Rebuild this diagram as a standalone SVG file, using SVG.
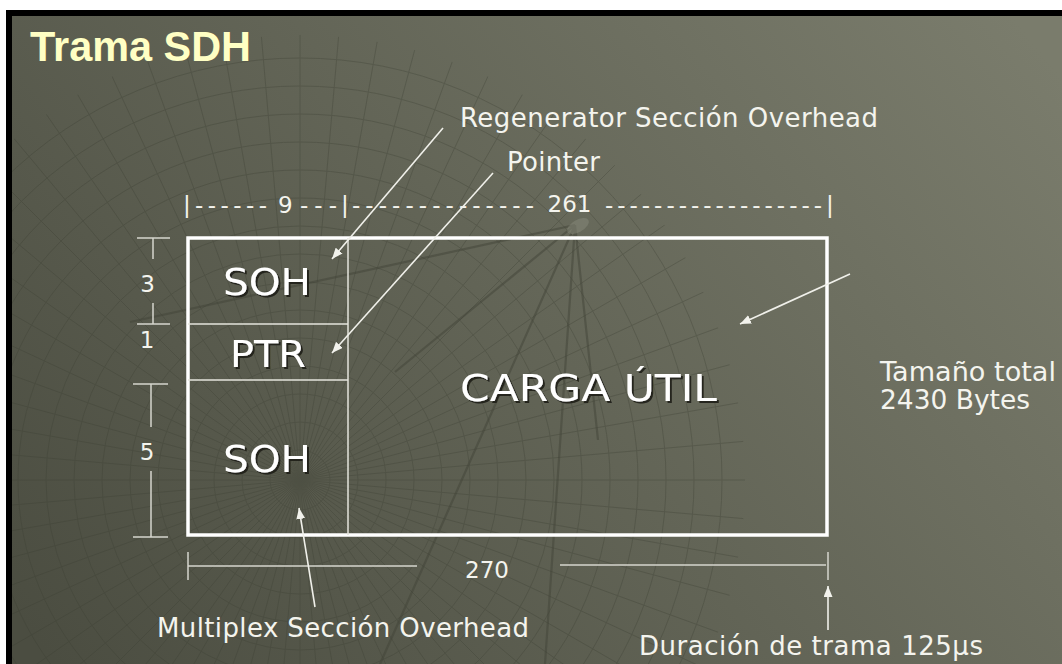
<svg xmlns="http://www.w3.org/2000/svg" width="1062" height="664" viewBox="0 0 1062 664">
<defs>
  <linearGradient id="bg" gradientUnits="userSpaceOnUse" x1="100" y1="720" x2="1000" y2="0">
    <stop offset="0" stop-color="#4b4d41"/>
    <stop offset="1" stop-color="#7a7c6c"/>
  </linearGradient>
  <clipPath id="globeClip"><circle cx="300" cy="480" r="445"/></clipPath>
  <clipPath id="slideClip"><rect x="12" y="16" width="1050" height="648"/></clipPath>
  <marker id="ah" markerUnits="userSpaceOnUse" markerWidth="12" markerHeight="10" refX="11" refY="4.5" orient="auto">
    <path d="M0,0 L11,4.5 L0,9 Z" fill="#f2f2ec"/>
  </marker>
  <filter id="sh" x="-10%" y="-30%" width="130%" height="170%">
    <feDropShadow dx="2" dy="2" stdDeviation="0.6" flood-color="#1c1d17" flood-opacity="0.9"/>
  </filter>
  <style>
    .lbl { font-family: "DejaVu Sans", Verdana, sans-serif; font-size: 26px; fill: #f4f4ee; }
    .num { font-family: "DejaVu Sans", Verdana, sans-serif; font-size: 23px; fill: #f4f4ee; }
    .box { font-family: "DejaVu Sans", Verdana, sans-serif; font-size: 37px; fill: #ffffff; filter: url(#sh); }
    .title { font-family: "Liberation Sans", Arial, sans-serif; font-weight: bold; font-size: 43px; fill: #ffffc4; }
    .frame { fill: none; stroke: #ffffff; stroke-width: 3.5; }
    .cell { fill: none; stroke: #e4e4dc; stroke-width: 1.5; }
    .dim { fill: none; stroke: #d6d6ce; stroke-width: 1.5; }
    .conn { fill: none; stroke: #f0f0ea; stroke-width: 1.6; marker-end: url(#ah); }
    .mesh { fill: none; stroke: #3a3d31; stroke-width: 1; opacity: 0.3; }
    .dish { fill: none; stroke: #414437; stroke-width: 2.2; opacity: 0.5; }
  </style>
</defs>

<!-- page and slide frame -->
<rect x="0" y="0" width="1062" height="664" fill="#ffffff"/>
<rect x="6" y="10" width="1056" height="654" fill="#000000"/>
<rect x="12" y="16" width="1050" height="648" fill="url(#bg)"/>

<!-- decorative background mesh -->
<g id="background" clip-path="url(#slideClip)">
  <g clip-path="url(#globeClip)" class="mesh">
    <circle cx="300" cy="480" r="30"/>
    <circle cx="300" cy="480" r="58"/>
    <circle cx="300" cy="480" r="86"/>
    <circle cx="300" cy="480" r="114"/>
    <circle cx="300" cy="480" r="142"/>
    <circle cx="300" cy="480" r="170"/>
    <circle cx="300" cy="480" r="198"/>
    <circle cx="300" cy="480" r="226"/>
    <circle cx="300" cy="480" r="254"/>
    <circle cx="300" cy="480" r="282"/>
    <circle cx="300" cy="480" r="310"/>
    <circle cx="300" cy="480" r="338"/>
    <circle cx="300" cy="480" r="366"/>
    <circle cx="300" cy="480" r="394"/>
    <circle cx="300" cy="480" r="422"/>
    <path d="M-150,480 L750,480 M-143,402 L743,558 M-123,326 L723,634 M-90,255 L690,705 M-45,191 L645,769 M11,135 L589,825 M75,90 L525,870 M146,57 L454,903 M222,37 L378,923 M300,30 L300,930 M378,37 L222,923 M454,57 L146,903 M525,90 L75,870 M589,135 L11,825 M645,191 L-45,769 M690,255 L-90,705 M723,326 L-123,634 M743,402 L-143,558"/>
    <path d="M-148,441 L748,519 M-136,363 L736,597 M-108,290 L708,670 M-69,222 L669,738 M-19,161 L619,799 M44,111 L556,849 M110,72 L490,888 M184,45 L416,915 M261,32 L339,928 M339,32 L261,928 M416,45 L184,915 M490,72 L110,888 M556,111 L44,849 M619,161 L-19,799 M669,222 L-69,738 M708,290 L-108,670 M736,363 L-136,597 M748,441 L-148,519"/>
  </g>
  <g class="dish">
    <path d="M575,225 L130,322 M575,225 L395,372 M575,225 L545,664 M575,225 L380,664 M575,225 L598,440"/>
  </g>
  <ellipse cx="578" cy="226" rx="12" ry="6" transform="rotate(-30 578 226)" fill="#8c8e7e" opacity="0.45"/>
</g>

<!-- title -->
<text class="title" x="30" y="61" textLength="221" lengthAdjust="spacingAndGlyphs">Trama SDH</text>

<!-- frame nodes -->
<g id="frame">
  <rect class="frame" x="188" y="238" width="639" height="297"/>
</g>
<g id="soh-top">
  <line class="cell" x1="348" y1="238" x2="348" y2="535"/>
  <text class="box" x="223" y="295" textLength="88" lengthAdjust="spacingAndGlyphs">SOH</text>
</g>
<g id="ptr">
  <line class="cell" x1="188" y1="324" x2="348" y2="324"/>
  <line class="cell" x1="188" y1="380" x2="348" y2="380"/>
  <text class="box" x="230" y="367" textLength="76" lengthAdjust="spacingAndGlyphs">PTR</text>
</g>
<g id="soh-bottom">
  <text class="box" x="223" y="472" textLength="88" lengthAdjust="spacingAndGlyphs">SOH</text>
</g>
<g id="carga-util">
  <text class="box" x="460" y="401" font-size="34" textLength="257" lengthAdjust="spacingAndGlyphs">CARGA ÚTIL</text>
</g>

<!-- dimensions -->
<g id="dimensions">
  <line class="dim" x1="137" y1="238" x2="170" y2="238"/>
  <line class="dim" x1="153" y1="238" x2="153" y2="259"/>
  <line class="dim" x1="153" y1="303" x2="153" y2="324"/>
  <line class="dim" x1="137" y1="324" x2="170" y2="324"/>
  <line class="dim" x1="133" y1="384" x2="168" y2="384"/>
  <line class="dim" x1="151" y1="384" x2="151" y2="427"/>
  <line class="dim" x1="151" y1="471" x2="151" y2="537"/>
  <line class="dim" x1="133" y1="537" x2="168" y2="537"/>
  <text class="num" x="147.5" y="292" text-anchor="middle">3</text>
  <text class="num" x="147" y="348" text-anchor="middle">1</text>
  <text class="num" x="147" y="460" text-anchor="middle">5</text>

  <line class="dim" x1="188" y1="552" x2="188" y2="580"/>
  <line class="dim" x1="188" y1="566" x2="417" y2="566"/>
  <line class="dim" x1="560" y1="565" x2="826" y2="565"/>
  <line class="dim" x1="828" y1="552" x2="828" y2="580"/>
  <text class="num" x="487" y="578" text-anchor="middle" font-size="25">270</text>

  <text class="num" x="183" y="213">|</text>
  <text class="num" x="195" y="213" textLength="72" lengthAdjust="spacing">------</text>
  <text class="num" x="278" y="213">9</text>
  <text class="num" x="300" y="213" textLength="37" lengthAdjust="spacing">---</text>
  <text class="num" x="341" y="213">|</text>
  <text class="num" x="352" y="213" textLength="182" lengthAdjust="spacing">--------------</text>
  <text class="num" x="569.5" y="212" text-anchor="middle" font-size="25">261</text>
  <text class="num" x="605" y="213" textLength="217" lengthAdjust="spacing">------------------</text>
  <text class="num" x="826" y="213">|</text>
</g>

<!-- labels -->
<g id="label-rso">
  <text class="lbl" x="460" y="127" textLength="418">Regenerator Sección Overhead</text>
</g>
<g id="label-pointer">
  <text class="lbl" x="507" y="171" textLength="93">Pointer</text>
</g>
<g id="label-tamano">
  <text class="lbl" x="880" y="381" font-size="22" textLength="176" lengthAdjust="spacingAndGlyphs">Tamaño total</text>
  <text class="lbl" x="880" y="409" font-size="22" textLength="150" lengthAdjust="spacingAndGlyphs">2430 Bytes</text>
</g>
<g id="label-mso">
  <text class="lbl" x="157" y="637" textLength="372">Multiplex Sección Overhead</text>
</g>
<g id="label-duracion">
  <text class="lbl" x="639" y="655" textLength="344">Duración de trama 125µs</text>
</g>

<!-- connectors -->
<g id="connectors">
  <line class="conn" x1="443" y1="128" x2="332" y2="259"/>
  <line class="conn" x1="493" y1="173" x2="332" y2="353"/>
  <line class="conn" x1="850" y1="274" x2="740" y2="324"/>
  <line class="conn" x1="315" y1="607" x2="299" y2="508"/>
  <line class="conn" x1="828" y1="630" x2="828" y2="586"/>
</g>
</svg>
